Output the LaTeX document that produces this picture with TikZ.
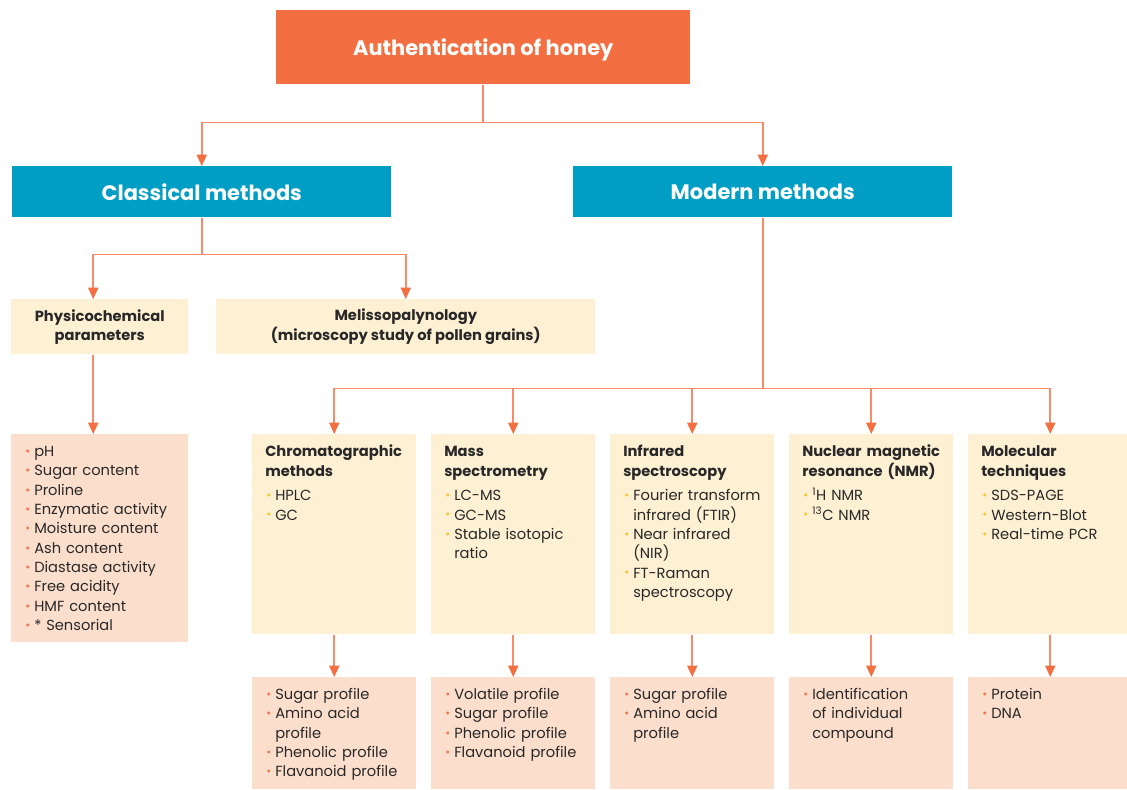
\documentclass[tikz,border=0pt]{standalone}
\usepackage{fontspec}
\setmainfont{Poppins}
\usetikzlibrary{arrows.meta,positioning}

% bullets and hanging indent for the lists
\newcommand{\ybul}{\makebox[7.5pt][l]{\hspace{0.8pt}\raisebox{0.9pt}{\textcolor{dotyellow}{\small\textbullet}}}}
\newcommand{\obul}{\makebox[7.5pt][l]{\hspace{0.8pt}\raisebox{0.9pt}{\textcolor{dotorange}{\small\textbullet}}}}
\newcommand{\cont}{\hspace*{7.5pt}}

\begin{document}
\begin{tikzpicture}[x=0.75pt, y=-0.75pt,
  topbox/.style={anchor=north west, fill=honeyorange, text=white, inner sep=0pt, text depth=0pt,
    minimum width=310.5pt, minimum height=55.5pt, font=\fontsize{15.7}{18}\selectfont\bfseries},
  methodbox/.style={anchor=north west, fill=methodteal, text=white, inner sep=0pt,
    minimum width=284.25pt, minimum height=38.25pt, font=\fontsize{15.7}{18}\selectfont\bfseries},
  creambox/.style={anchor=north west, fill=creamfill, inner sep=0pt},
  peachbox/.style={anchor=north west, fill=peachfill, inner sep=0pt},
  boxhead/.style={align=center, text=inkdark, font=\fontsize{11}{14.5}\selectfont\bfseries},
  boxtext/.style={anchor=base west, inner sep=0pt, text width=118pt, align=left,
    text=inkdark, font=\fontsize{11}{14.5}\selectfont},
  link/.style={draw=linkorange, line width=1.3pt,
    -{Triangle[width=7.5pt, length=8.5pt, color=honeyorange]}}]

  % Define colors
  \definecolor{honeyorange}{RGB}{243,110,64}
  \definecolor{linkorange}{RGB}{246,140,105}
  \definecolor{methodteal}{RGB}{0,158,196}
  \definecolor{creamfill}{RGB}{254,240,211}
  \definecolor{peachfill}{RGB}{252,222,205}
  \definecolor{dotyellow}{RGB}{250,196,45}
  \definecolor{dotorange}{RGB}{243,120,80}
  \definecolor{inkdark}{RGB}{40,40,40}

  \useasboundingbox (0,0) rectangle (1127,789);

  % Top level
  \node[topbox] (auth) at (276,10) {Authentication of honey};
  \node[methodbox] (classic) at (12,166) {Classical methods};
  \node[methodbox] (modern) at (573,166) {Modern methods};

  % Classical branch
  \node[creambox, boxhead, minimum width=132.75pt, minimum height=41.25pt] (physico) at (11,299)
    {Physicochemical\\parameters};
  \node[creambox, boxhead, minimum width=284.25pt, minimum height=41.25pt] (meliss) at (216,299)
    {Melissopalynology\\(microscopy study of pollen grains)};
  \node[peachbox, minimum width=132.75pt, minimum height=156pt] (physlist) at (11,434) {};
  \node[boxtext] (physlisttxt) at ([xshift=9.75pt, yshift=-16.9pt]physlist.north west)
    {\obul pH\\ \obul Sugar content\\ \obul Proline\\ \obul Enzymatic activity\\
     \obul Moisture content\\ \obul Ash content\\ \obul Diastase activity\\
     \obul Free acidity\\ \obul HMF content\\ \obul * Sensorial};

  % Modern branch: techniques
  \foreach \m/\px in {chrom/252, mass/431, infra/610, nmr/789, molec/968} {
    \node[creambox, minimum width=123pt, minimum height=150pt] (\m) at (\px,434) {};
    \node[peachbox, minimum width=123pt, minimum height=84pt] (\m-res) at (\px,677) {};
  }

  \node[boxtext] (chromtxt) at ([xshift=9.75pt, yshift=-17pt]chrom.north west)
    {\textbf{Chromatographic}\\ \textbf{methods}\\[4pt] \ybul HPLC\\ \ybul GC};
  \node[boxtext] (masstxt) at ([xshift=9.75pt, yshift=-17pt]mass.north west)
    {\textbf{Mass}\\ \textbf{spectrometry}\\[4pt] \ybul LC-MS\\ \ybul GC-MS\\
     \ybul Stable isotopic\\ \cont ratio};
  \node[boxtext] (infratxt) at ([xshift=9.75pt, yshift=-17pt]infra.north west)
    {\textbf{Infrared}\\ \textbf{spectroscopy}\\[4pt] \ybul Fourier transform\\
     \cont infrared (FTIR)\\ \ybul Near infrared\\ \cont (NIR)\\ \ybul FT-Raman\\
     \cont spectroscopy};
  \node[boxtext] (nmrtxt) at ([xshift=9.75pt, yshift=-17pt]nmr.north west)
    {\textbf{Nuclear magnetic}\\ \textbf{resonance (NMR)}\\[4pt]
     \ybul \textsuperscript{1}H NMR\\ \ybul \textsuperscript{13}C NMR};
  \node[boxtext] (molectxt) at ([xshift=9.75pt, yshift=-17pt]molec.north west)
    {\textbf{Molecular}\\ \textbf{techniques}\\[4pt] \ybul SDS-PAGE\\ \ybul Western-Blot\\
     \ybul Real-time PCR};

  % Modern branch: what each one profiles
  \node[boxtext] (chromrestxt) at ([xshift=9.75pt, yshift=-16.9pt]chrom-res.north west)
    {\obul Sugar profile\\ \obul Amino acid\\ \cont profile\\ \obul Phenolic profile\\
     \obul Flavanoid profile};
  \node[boxtext] (massrestxt) at ([xshift=9.75pt, yshift=-16.9pt]mass-res.north west)
    {\obul Volatile profile\\ \obul Sugar profile\\ \obul Phenolic profile\\
     \obul Flavanoid profile};
  \node[boxtext] (infrarestxt) at ([xshift=9.75pt, yshift=-16.9pt]infra-res.north west)
    {\obul Sugar profile\\ \obul Amino acid\\ \cont profile};
  \node[boxtext] (nmrrestxt) at ([xshift=9.75pt, yshift=-16.9pt]nmr-res.north west)
    {\obul Identification\\ \cont of individual\\ \cont compound};
  \node[boxtext] (molecrestxt) at ([xshift=9.75pt, yshift=-16.9pt]molec-res.north west)
    {\obul Protein\\ \obul DNA};

  % Connectors
  \draw[link] (auth.south) -- ++(0,38) -| (classic.north);
  \draw[link] (auth.south) -- ++(0,38) -| (modern.north);
  \draw[link] (classic.south) -- ++(0,37) -| ([xshift=-4.9pt]physico.north);
  \draw[link] (classic.south) -- ++(0,37) -| (meliss.north);
  \draw[link] ([xshift=-4.9pt]physico.south) -- ([xshift=-4.9pt]physlist.north);
  \foreach \m in {chrom, mass, infra, nmr, molec} {
    \draw[link] (modern.south) -- ++(0,171) -| (\m.north);
    \draw[link] (\m.south) -- (\m-res.north);
  }
\end{tikzpicture}
\end{document}
